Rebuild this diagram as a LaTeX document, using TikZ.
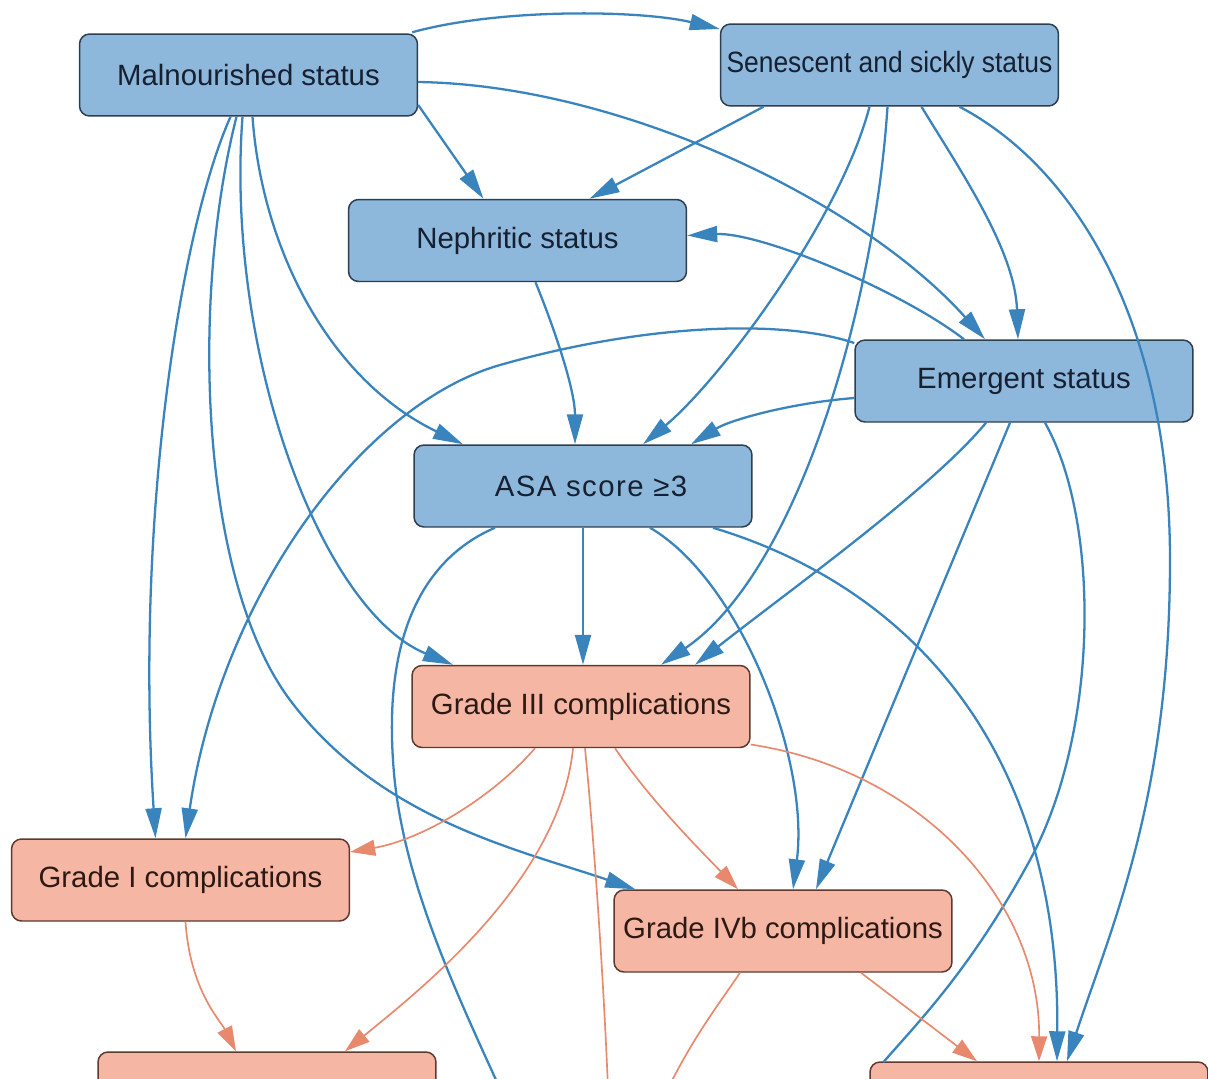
\documentclass[tikz,border=0pt]{standalone}
\usepackage{fontspec}
\setmainfont{Liberation Sans}
\newfontfamily\narrowfont[FakeStretch=0.9]{Liberation Sans}
\usepackage{xcolor}
\usetikzlibrary{arrows.meta,calc,positioning}
\definecolor{riskfill}{RGB}{141,183,219}
\definecolor{riskline}{RGB}{45,62,80}
\definecolor{risktext}{RGB}{22,32,48}
\definecolor{riskedge}{RGB}{58,132,190}
\definecolor{outfill}{RGB}{245,182,164}
\definecolor{outline}{RGB}{92,58,48}
\definecolor{outtext}{RGB}{45,25,20}
\definecolor{outedge}{RGB}{232,137,110}

\begin{document}
\begin{tikzpicture}[x=0.02cm,y=-0.02cm,
  box/.style={rectangle,rounded corners=0.2cm,minimum width=6.76cm,minimum height=1.64cm,
    inner sep=0pt,line width=0.85pt,font=\fontsize{16.7}{19}\selectfont},
  risk/.style={box,draw=riskline,fill=riskfill,text=risktext},
  outcome/.style={box,draw=outline,fill=outfill,text=outtext},
  riskarrow/.style={draw=riskedge,line width=1.3pt,-{Triangle[length=0.6cm,width=0.32cm]}},
  outarrow/.style={draw=outedge,line width=0.95pt,-{Triangle[length=0.5cm,width=0.32cm]}}]
  \useasboundingbox (0,0) rectangle (1208,1079);
  \clip (0,0) rectangle (1208,1079);
  \fill[white] (0,0) rectangle (1208,1079);

  \node[risk] (mal) at (248.5,75) {Malnourished status};
  \node[risk] (sen) at (889.5,65) {\narrowfont Senescent and sickly status};
  \node[risk] (nep) at (517.5,240.5) {Nephritic status};
  \node[risk] (eme) at (1024,381) {Emergent status};
  \node[risk] (asa) at (583,486) {\hspace*{0.32cm}\addfontfeatures{LetterSpace=5}ASA score ≥3};
  \node[outcome] (g3) at (581,706.5) {Grade III complications};
  \node[outcome] (g1) at (180.5,880) {Grade I complications};
  \node[outcome] (g4b) at (783,931) {Grade IVb complications};
  \node[outcome] (low) at (267,1093) {};
  \node[outcome] (ext) at (1039,1103) {};

  \coordinate (offa) at ($(ext.north west)+(14,1)$);
  \coordinate (offb) at (512,1115);
  \coordinate (offc) at (609,1115);
  \coordinate (offd) at (655,1115);

  \draw[riskarrow] ($(mal.north east)+(-6,-1)$) .. controls (500,8) and (640,10) .. ($(sen.west)+(0,-36)$);
  \draw[riskarrow] ($(mal.east)+(0,30)$) -- ($(nep.north)+(-34,0)$);
  \draw[riskarrow] ($(mal.east)+(0,7)$) .. controls (620,85) and (860,200) .. ($(eme.north)+(-39,0)$);
  \draw[riskarrow] ($(mal.south)+(4,0)$) .. controls (262,250) and (330,380) .. ($(asa.north)+(-120,0)$);
  \draw[riskarrow] ($(mal.south)+(-6,0)$) .. controls (225,350) and (320,610) .. ($(g3.north)+(-128,0)$);
  \draw[riskarrow] ($(mal.south)+(-12,0)$) .. controls (190,300) and (200,580) .. (290,700)
    .. controls (380,820) and (520,850) .. ($(g4b.north west)+(22,0)$);
  \draw[riskarrow] ($(mal.south)+(-18,0)$) .. controls (180,230) and (135,520) .. ($(g1.north)+(-25,0)$);

  \draw[riskarrow] ($(sen.south)+(-126,0)$) -- ($(nep.north)+(72,0)$);
  \draw[riskarrow] ($(sen.south)+(-20,0)$) .. controls (840,220) and (720,380) .. ($(asa.north)+(60,0)$);
  \draw[riskarrow] ($(sen.south)+(-2,0)$) .. controls (875,300) and (800,570) .. ($(g3.north)+(80,0)$);
  \draw[riskarrow] ($(sen.south)+(32,0)$) .. controls (960,170) and (1015,250) .. ($(eme.north)+(-6,0)$);
  \draw[riskarrow] ($(sen.south)+(70,0)$) .. controls (1080,170) and (1170,330) .. (1170,560)
    .. controls (1170,800) and (1110,930) .. ($(ext.north)+(28,0)$);

  \draw[riskarrow] ($(nep.south)+(18,0)$) .. controls (555,330) and (575,390) .. ($(asa.north)+(-8,0)$);

  \draw[riskarrow] ($(eme.north)+(-60,0)$) .. controls (900,290) and (760,232) .. ($(nep.east)+(0,-5)$);
  \draw[riskarrow] ($(eme.west)+(0,-38)$) .. controls (780,318) and (640,325) .. (500,365)
    .. controls (360,405) and (220,600) .. ($(g1.north)+(5,0)$);
  \draw[riskarrow] ($(eme.west)+(0,17)$) .. controls (790,403) and (730,420) .. ($(asa.north)+(108,0)$);
  \draw[riskarrow] ($(eme.south)+(-38,0)$) .. controls (930,490) and (790,590) .. ($(g3.north)+(114,0)$);
  \draw[riskarrow] ($(eme.south)+(-14,0)$) -- ($(g4b.north)+(33,0)$);
  \draw[riskarrow,-] ($(eme.south)+(21,0)$) .. controls (1100,520) and (1100,730) .. (1030,860)
    .. controls (970,970) and (920,1020) .. (offa);

  \draw[riskarrow] (asa.south) -- (asa.south |- g3.north);
  \draw[riskarrow] ($(asa.south)+(67,0)$) .. controls (740,580) and (810,760) .. ($(g4b.north)+(10,0)$);
  \draw[riskarrow] ($(asa.south)+(130,0)$) .. controls (920,590) and (1060,760) .. ($(ext.north)+(18,0)$);
  \draw[riskarrow,-] ($(asa.south)+(-88,0)$) .. controls (420,560) and (385,640) .. (393,760)
    .. controls (400,880) and (460,1000) .. (offb);

  \draw[outarrow] ($(g3.south)+(-46,0)$) .. controls (490,800) and (420,840) .. ($(g1.east)+(0,-28)$);
  \draw[outarrow] ($(g3.south)+(-8,0)$) .. controls (560,880) and (420,990) .. ($(low.north)+(78,0)$);
  \draw[outarrow,-] ($(g3.south)+(4,0)$) .. controls (595,850) and (605,1000) .. (offc);
  \draw[outarrow] ($(g3.south)+(34,0)$) .. controls (650,800) and (700,850) .. ($(g4b.north)+(-45,0)$);
  \draw[outarrow] ($(g3.east)+(0,38)$) .. controls (920,770) and (1040,900) .. (ext.north);
  \draw[outarrow] ($(g4b.south)+(78,0)$) -- ($(ext.north)+(-62,0)$);
  \draw[outarrow,-] ($(g4b.south)+(-43,0)$) .. controls (715,1010) and (690,1040) .. (offd);
  \draw[outarrow] ($(g1.south)+(5,0)$) .. controls (190,990) and (220,1020) .. ($(low.north)+(-31,0)$);
\end{tikzpicture}
\end{document}
